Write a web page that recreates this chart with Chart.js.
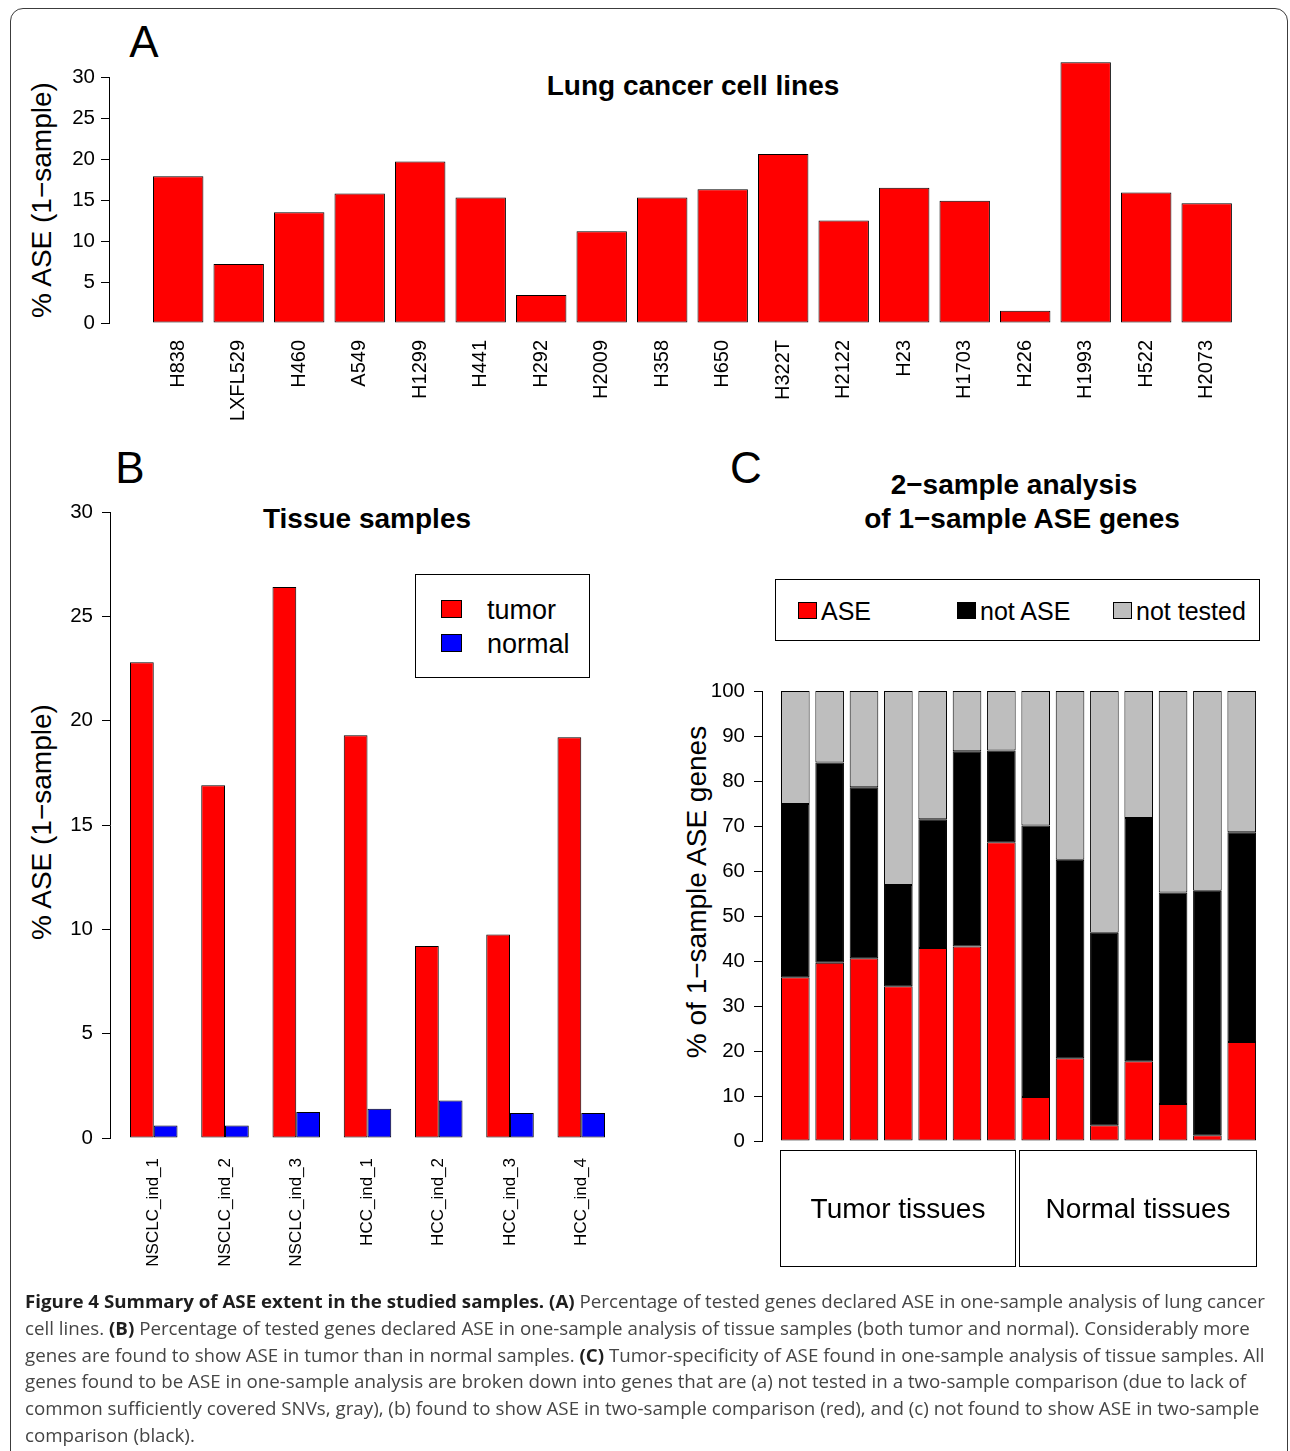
<!DOCTYPE html>
<html>
<head>
<meta charset="utf-8">
<title>Figure 4 – ASE extent</title>
<script src="https://cdn.jsdelivr.net/npm/chart.js@4.4.1/dist/chart.umd.min.js"></script>
<style>
  html, body { margin: 0; padding: 0; background: #fff; }
  body {
    width: 1290px; height: 1451px; position: relative; overflow: hidden;
    font-family: "Liberation Sans", Arial, Helvetica, sans-serif; color: #000;
  }
  .frame {
    position: absolute; left: 10px; top: 8px; width: 1278px; height: 1500px;
    border: 1.5px solid #3c3c3c; border-radius: 13px; box-sizing: border-box;
  }
  canvas { position: absolute; }
  .t { position: absolute; white-space: nowrap; transform: translate(-50%, -50%); line-height: 1; }
  .ytitle { position: absolute; white-space: nowrap; transform: translate(-50%, -50%) rotate(-90deg); line-height: 1; font-size: 28px; }
  .letter { font-size: 44px; }
  .title { font-size: 28px; font-weight: bold; }
  .legend { position: absolute; border: 1.5px solid #000; box-sizing: border-box; background: #fff; }
  .sw { position: absolute; border: 1px solid #000; box-sizing: border-box; }
  .lt { position: absolute; white-space: nowrap; line-height: 1; transform: translateY(-50%); }
  .group {
    position: absolute; border: 1.5px solid #000; box-sizing: border-box;
    display: flex; align-items: center; justify-content: center; font-size: 28px; white-space: nowrap;
  }
  #caption {
    position: absolute; left: 25px; top: 1288px; transform-origin: 0 0;
    font-family: "Open Sans", "Noto Sans", sans-serif; font-size: 18.5px; color: #454545;
  }
  #caption div { white-space: nowrap; line-height: 26.8px; height: 26.8px; }
  #caption span.line { display: inline-block; }
  #caption b { color: #1e1e1e; font-weight: 700; }
</style>
</head>
<body>
<div class="frame"></div>

<!-- panel letters and titles -->
<div class="t letter" style="left:144px; top:42px;">A</div>
<div class="t title" style="left:693px; top:86px;">Lung cancer cell lines</div>
<div class="ytitle" style="left:42px; top:200px;">% ASE (1−sample)</div>

<div class="t letter" style="left:130px; top:468px;">B</div>
<div class="t title" style="left:367px; top:519px;">Tissue samples</div>
<div class="ytitle" style="left:42px; top:822px;">% ASE (1−sample)</div>

<div class="t letter" style="left:746px; top:468px;">C</div>
<div class="t title" style="left:1014px; top:485px;">2−sample analysis</div>
<div class="t title" style="left:1022px; top:519px;">of 1−sample ASE genes</div>
<div class="ytitle" style="left:697px; top:892px;">% of 1−sample ASE genes</div>

<canvas id="chartA" width="1290" height="450" style="left:0; top:0;"></canvas>
<canvas id="chartB" width="650" height="850" style="left:0; top:450px;"></canvas>
<canvas id="chartC" width="640" height="600" style="left:650px; top:600px;"></canvas>

<!-- legend, panel B -->
<div class="legend" style="left:415px; top:574px; width:175px; height:104px;"></div>
<div class="sw" style="left:441px; top:600px; width:21px; height:18px; background:#ff0000;"></div>
<div class="lt" style="left:487px; top:610px; font-size:27px;">tumor</div>
<div class="sw" style="left:441px; top:634px; width:21px; height:18px; background:#0000ff;"></div>
<div class="lt" style="left:487px; top:644px; font-size:27px;">normal</div>

<!-- legend, panel C -->
<div class="legend" style="left:775px; top:579px; width:485px; height:62px;"></div>
<div class="sw" style="left:798px; top:602px; width:19px; height:17px; background:#ff0000;"></div>
<div class="lt" style="left:821px; top:611px; font-size:25px;">ASE</div>
<div class="sw" style="left:957px; top:602px; width:19px; height:17px; background:#000000;"></div>
<div class="lt" style="left:980px; top:611px; font-size:25px;">not ASE</div>
<div class="sw" style="left:1113px; top:602px; width:19px; height:17px; background:#bebebe;"></div>
<div class="lt" style="left:1136px; top:611px; font-size:25px;">not tested</div>

<!-- tissue groups under panel C -->
<div class="group" style="left:780px; top:1150px; width:236px; height:117px;">Tumor tissues</div>
<div class="group" style="left:1019px; top:1150px; width:238px; height:117px;">Normal tissues</div>

<div id="caption">
  <div><span class="line" id="capFirst"><b>Figure 4 Summary of ASE extent in the studied samples.</b> <b>(A)</b> Percentage of tested genes declared ASE in one-sample analysis of lung cancer</span></div>
  <div><span class="line">cell lines. <b>(B)</b> Percentage of tested genes declared ASE in one-sample analysis of tissue samples (both tumor and normal). Considerably more</span></div>
  <div><span class="line">genes are found to show ASE in tumor than in normal samples. <b>(C)</b> Tumor-specificity of ASE found in one-sample analysis of tissue samples. All</span></div>
  <div><span class="line">genes found to be ASE in one-sample analysis are broken down into genes that are (a) not tested in a two-sample comparison (due to lack of</span></div>
  <div><span class="line">common sufficiently covered SNVs, gray), (b) found to show ASE in two-sample comparison (red), and (c) not found to show ASE in two-sample</span></div>
  <div><span class="line">comparison (black).</span></div>
</div>

<script>
// ---- Panel A: lung cancer cell lines, % ASE (1-sample) ----
const cellLines = ['H838', 'LXFL529', 'H460', 'A549', 'H1299', 'H441', 'H292', 'H2009', 'H358',
                   'H650', 'H322T', 'H2122', 'H23', 'H1703', 'H226', 'H1993', 'H522', 'H2073'];
const cellLineASE = [17.9, 7.2, 13.5, 15.8, 19.7, 15.3, 3.4, 11.2, 15.3,
                     16.3, 20.6, 12.5, 16.5, 14.9, 1.5, 31.8, 15.9, 14.6];
const cellLineTicks = [0, 5, 10, 15, 20, 25, 30];

// ---- Panel B: tissue samples, tumor vs normal ----
const tissueSamples = ['NSCLC_ind_1', 'NSCLC_ind_2', 'NSCLC_ind_3', 'HCC_ind_1', 'HCC_ind_2', 'HCC_ind_3', 'HCC_ind_4'];
const tumorASE  = [22.8, 16.9, 26.4, 19.3, 9.2, 9.75, 19.2];
const normalASE = [0.6, 0.6, 1.25, 1.4, 1.8, 1.2, 1.2];
const tissueTicks = [0, 5, 10, 15, 20, 25, 30];

// ---- Panel C: 2-sample breakdown of 1-sample ASE genes (7 tumor, 7 normal) ----
const breakdownSamples = ['T1', 'T2', 'T3', 'T4', 'T5', 'T6', 'T7', 'N1', 'N2', 'N3', 'N4', 'N5', 'N6', 'N7'];
const pctASE       = [36.4, 39.6, 40.6, 34.4, 42.9, 43.2, 66.4, 9.8, 18.4, 3.5, 17.7, 8.2, 1.3, 22.0];
const pctNotASE    = [38.5, 44.5, 38.0, 22.5, 28.6, 43.4, 20.4, 60.3, 44.1, 42.8, 54.1, 47.0, 54.3, 46.6];
const pctNotTested = [25.1, 15.9, 21.4, 43.1, 28.5, 13.4, 13.2, 29.9, 37.5, 53.7, 28.2, 44.8, 44.4, 31.4];
const breakdownTicks = [0, 10, 20, 30, 40, 50, 60, 70, 80, 90, 100];

const RED = '#ff0000', BLUE = '#0000ff', BLACK = '#000000', GRAY = '#bebebe';

Chart.defaults.font.family = "'Liberation Sans', Arial, Helvetica, sans-serif";
Chart.defaults.color = '#000';

const points = (vals) => vals.map((v, i) => ({ x: i, y: v }));

// Base-graphics style value axis: ticks only outside, axis line from first to last tick.
function valueAxis(ticks, width, fontSize, pad, stacked) {
  return {
    type: 'linear', stacked: !!stacked,
    min: ticks[0], max: ticks[ticks.length - 1],
    afterFit(s) { s.width = width; },
    afterBuildTicks(s) { s.ticks = ticks.map(v => ({ value: v })); },
    border: { display: true, color: '#000', width: 1 },
    grid: { drawOnChartArea: false, drawTicks: true, tickLength: 8, color: '#000', lineWidth: 1 },
    ticks: { font: { size: fontSize }, padding: pad, color: '#000' }
  };
}

// Index axis: one unit per bar (or bar group), labels rotated to read upward.
function indexAxis(names, min, max, height, fontSize, pad, showLabels, stacked) {
  return {
    type: 'linear', stacked: !!stacked, offset: false, min: min, max: max,
    afterFit(s) { s.height = height; },
    afterBuildTicks(s) { s.ticks = names.map((_, i) => ({ value: i })); },
    border: { display: false },
    grid: { display: false, drawTicks: false },
    ticks: {
      display: showLabels, autoSkip: false, minRotation: 90, maxRotation: 90,
      padding: pad, font: { size: fontSize }, color: '#000',
      callback: (v) => names[Math.round(v)] ?? ''
    }
  };
}

const common = {
  responsive: false, animation: false, devicePixelRatio: 1,
  plugins: { legend: { display: false }, tooltip: { enabled: false }, title: { display: false } }
};

function barStyle(color) {
  return { backgroundColor: color, borderColor: '#000', borderWidth: 1, borderSkipped: false };
}

// Panel A
new Chart(document.getElementById('chartA'), {
  type: 'bar',
  data: {
    datasets: [Object.assign({
      label: '% ASE', data: points(cellLineASE), clip: false,
      categoryPercentage: 1, barPercentage: 1 / 1.2
    }, barStyle(RED))]
  },
  options: Object.assign({}, common, {
    layout: { padding: { left: 0, right: 30, top: 77, bottom: 7 } },
    scales: {
      x: indexAxis(cellLines, -1.144, 17.881, 120, 20, 17, true),
      y: valueAxis(cellLineTicks, 109, 20.5, 6)
    }
  })
});

// Panel B
new Chart(document.getElementById('chartB'), {
  type: 'bar',
  data: {
    datasets: [
      Object.assign({ label: 'tumor', data: points(tumorASE), categoryPercentage: 2 / 3, barPercentage: 1 }, barStyle(RED)),
      Object.assign({ label: 'normal', data: points(normalASE), categoryPercentage: 2 / 3, barPercentage: 1 }, barStyle(BLUE))
    ]
  },
  options: Object.assign({}, common, {
    layout: { padding: { left: 0, right: 20, top: 62, bottom: 12 } },
    scales: {
      x: indexAxis(tissueSamples, -0.614, 6.684, 150, 17, 20, true),
      y: valueAxis(tissueTicks, 110, 20.5, 9)
    }
  })
});

// Panel C
new Chart(document.getElementById('chartC'), {
  type: 'bar',
  data: {
    datasets: [
      Object.assign({ label: 'ASE', data: points(pctASE), categoryPercentage: 1, barPercentage: 1 / 1.2 }, barStyle(RED)),
      Object.assign({ label: 'not ASE', data: points(pctNotASE), categoryPercentage: 1, barPercentage: 1 / 1.2 }, barStyle(BLACK)),
      Object.assign({ label: 'not tested', data: points(pctNotTested), categoryPercentage: 1, barPercentage: 1 / 1.2 }, barStyle(GRAY))
    ]
  },
  options: Object.assign({}, common, {
    layout: { padding: { left: 0, right: 20, top: 91, bottom: 59 } },
    scales: {
      x: indexAxis(breakdownSamples, -0.970, 13.823, 0, 12, 0, false, true),
      y: valueAxis(breakdownTicks, 112, 20.5, 9, true)
    }
  })
});

// Caption: condensed to the column width.
(function fitCaption() {
  const cap = document.getElementById('caption');
  const first = document.getElementById('capFirst');
  const w = first.getBoundingClientRect().width;
  if (w > 0) cap.style.transform = 'scaleX(' + (1240 / w) + ')';
})();
</script>
</body>
</html>
